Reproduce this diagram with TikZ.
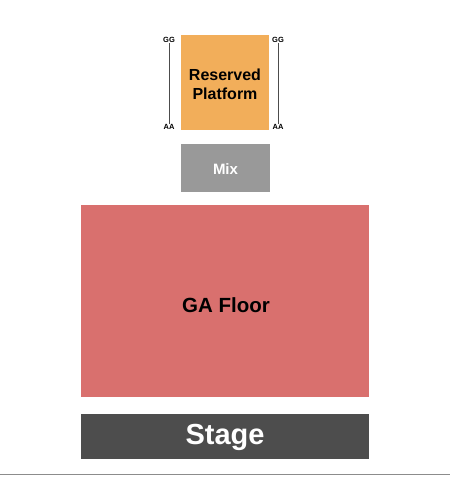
\documentclass[tikz,border=0pt]{standalone}
\usepackage{fontspec}
\setmainfont{Liberation Sans}
\usetikzlibrary{positioning}

\definecolor{platformorange}{HTML}{F2AE5A}
\definecolor{mixgray}{HTML}{999999}
\definecolor{floorred}{HTML}{D9706E}
\definecolor{stagegray}{HTML}{4D4D4D}
\definecolor{rulegray}{HTML}{8C8C8C}

\tikzset{
    section/.style={inner sep=0pt, align=center, font=\bfseries},
    rowlabel/.style={inner sep=0pt, font=\bfseries\fontsize{7.5}{8}\selectfont},
}

\begin{document}
\begin{tikzpicture}[x=1pt,y=-1pt]
    \useasboundingbox (0,0) rectangle (450,500);

    % Reserved platform and row letters
    \fill[platformorange] (181,35) rectangle (269,130);
    \node[section,font=\bfseries\fontsize{16}{19}\selectfont] (platform) at (225,84) {Reserved\\Platform};
    \node[rowlabel] (ggl) at (169,40) {GG};
    \node[rowlabel] (aal) at (169,127) {AA};
    \node[rowlabel] (ggr) at (278,40) {GG};
    \node[rowlabel] (aar) at (278,127) {AA};
    \draw[black!70,thin] (ggl) -- (aal);
    \draw[black!70,thin] (ggr) -- (aar);

    % Mix
    \fill[mixgray] (181,144) rectangle (270,192);
    \node[section,white,font=\bfseries\fontsize{15}{17}\selectfont] (mix) at (225.5,169) {Mix};

    % GA floor
    \fill[floorred] (81,205) rectangle (369,397);
    \node[section,font=\bfseries\fontsize{20.5}{23}\selectfont] (floor) at (226,305) {GA Floor};

    % Stage
    \fill[stagegray] (81,414) rectangle (369,459);
    \node[section,white,font=\bfseries\fontsize{29}{31}\selectfont] (stage) at (225,437) {Stage};

    \draw[rulegray,thin] (0,474) -- (450,474);
\end{tikzpicture}
\end{document}
